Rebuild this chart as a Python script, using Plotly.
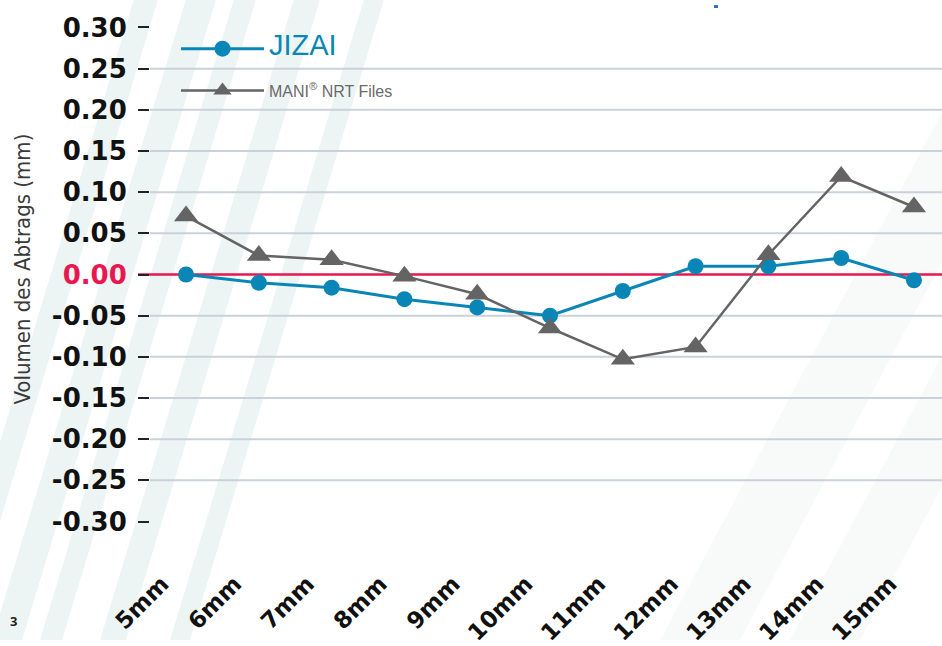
import plotly.graph_objects as go

# ---------------- data ----------------
categories = ["5mm", "6mm", "7mm", "8mm", "9mm", "10mm", "11mm", "12mm", "13mm", "14mm", "15mm"]
jizai = [0.00, -0.010, -0.016, -0.030, -0.040, -0.050, -0.020, 0.010, 0.010, 0.020, -0.007]
mani = [0.071, 0.023, 0.018, -0.002, -0.024, -0.065, -0.103, -0.088, 0.024, 0.119, 0.082]
y_ticks = [0.30, 0.25, 0.20, 0.15, 0.10, 0.05, 0.00, -0.05, -0.10, -0.15, -0.20, -0.25, -0.30]
grid_values = [0.25, 0.20, 0.15, 0.10, 0.05, -0.05, -0.10, -0.15, -0.20, -0.25]
y_title = "Volumen des Abtrags (mm)"
series_names = ["JIZAI", "MANI<sup>®</sup> NRT Files"]

# ---------------- style ----------------
W, H = 942, 646
ML, MR, MT, MB = 150, 0, 11, 103
PW, PH = W - ML - MR, H - MT - MB
BLUE = "#0a86b6"
GRAY = "#646464"
RED = "#e8174f"
GRID = "#c9d2da"
TICK_FONT = "DejaVu Sans, Open Sans, sans-serif"


def px_x(px):
    return (px - ML) / PW


def px_y(py):
    return (H - MB - py) / PH


def fmt(v):
    if abs(v) < 1e-9:
        return f'<span style="color:{RED}">0.00</span>'
    return f"{v:.2f}"


fig = go.Figure()

fig.add_trace(go.Scatter(
    x=categories, y=jizai, mode="lines+markers",
    name=f'<span style="font-size:29px;color:{BLUE}">{series_names[0]}</span>',
    line=dict(color=BLUE, width=3),
    marker=dict(symbol="circle", size=16, color=BLUE),
    legendgroup="a",
))
fig.add_trace(go.Scatter(
    x=categories, y=mani, mode="lines+markers",
    name=series_names[1],
    line=dict(color=GRAY, width=2.5),
    marker=dict(symbol="triangle-up", size=21, color=GRAY),
    legendgroup="b",
))

shapes = []
# background diagonal stripes (decorative)
slope = 0.30
for x0, w in [(-60, 24), (-8, 30), (40, 22), (100, 26), (170, 20)]:
    xb0, xb1 = x0, x0 + w
    xt0, xt1 = xb0 + slope * H, xb1 + slope * H
    path = (f"M {px_x(xb0)},{px_y(H)} L {px_x(xb1)},{px_y(H)} "
            f"L {px_x(xt1)},{px_y(0)} L {px_x(xt0)},{px_y(0)} Z")
    shapes.append(dict(type="path", path=path, xref="paper", yref="paper",
                       fillcolor="#ecf4f4", line=dict(width=0), layer="below"))
for xb0, xb1, xt0, xt1 in [(660, 740, 942 + 60, 942 + 140), (790, 860, 942 + 190, 942 + 260)]:
    path = (f"M {px_x(xb0)},{px_y(H)} L {px_x(xb1)},{px_y(H)} "
            f"L {px_x(xt1)},{px_y(0)} L {px_x(xt0)},{px_y(0)} Z")
    shapes.append(dict(type="path", path=path, xref="paper", yref="paper",
                       fillcolor="#f8fafa", line=dict(width=0), layer="below"))

# horizontal grid lines
for gv in grid_values:
    shapes.append(dict(type="line", xref="paper", x0=0, x1=1, yref="y", y0=gv, y1=gv,
                       line=dict(color=GRID, width=2), layer="below"))
# zero line
shapes.append(dict(type="line", xref="paper", x0=-0.015, x1=1, yref="y", y0=0, y1=0,
                   line=dict(color=RED, width=2.5), layer="below"))
# small blue mark at top
shapes.append(dict(type="rect", xref="paper", yref="paper",
                   x0=px_x(714), x1=px_x(718), y0=px_y(8), y1=px_y(5),
                   fillcolor="#2a6fc0", line=dict(width=0)))

fig.update_layout(
    width=W, height=H,
    margin=dict(l=ML, r=MR, t=MT, b=MB),
    paper_bgcolor="white",
    plot_bgcolor="rgba(0,0,0,0)",
    shapes=shapes,
    showlegend=True,
    legend=dict(
        x=px_x(176), y=px_y(32), xanchor="left", yanchor="top",
        font=dict(family="Liberation Sans, Arial, sans-serif", size=16, color="#6a6a6a"),
        bgcolor="rgba(0,0,0,0)", tracegroupgap=18, itemwidth=83,
    ),
    xaxis=dict(
        type="category", range=[-0.495, 10.385],
        showgrid=False, zeroline=False, showline=False, ticks="",
        tickangle=-45,
        tickfont=dict(family=TICK_FONT, size=23, color="#111111", weight="bold"),
        ticklabelstandoff=27, ticklabelshift=-24,
    ),
    yaxis=dict(
        range=[-0.32, 0.32],
        tickvals=y_ticks, ticktext=[fmt(v) for v in y_ticks],
        showgrid=False, zeroline=False, showline=False,
        ticks="outside", ticklen=11, tickwidth=2, tickcolor="#222222",
        ticklabelstandoff=6,
        tickfont=dict(family=TICK_FONT, size=26, color="#111111", weight="bold"),
    ),
    annotations=[
        dict(text=y_title, textangle=-90, xref="paper", yref="paper",
             x=px_x(23), y=px_y(272), xanchor="center", yanchor="middle", showarrow=False,
             font=dict(family="Liberation Sans Narrow, DejaVu Sans Condensed, sans-serif",
                       size=22, color="#3a3a3a")),
        dict(text="<b>3</b>", xref="paper", yref="paper",
             x=px_x(13), y=px_y(627), xanchor="center", yanchor="middle", showarrow=False,
             font=dict(family="Open Sans, sans-serif", size=13, color="#222222")),
    ],
)

fig.write_html("out.html", config={"displayModeBar": False},
               post_script="document.body.style.margin='0px';")
